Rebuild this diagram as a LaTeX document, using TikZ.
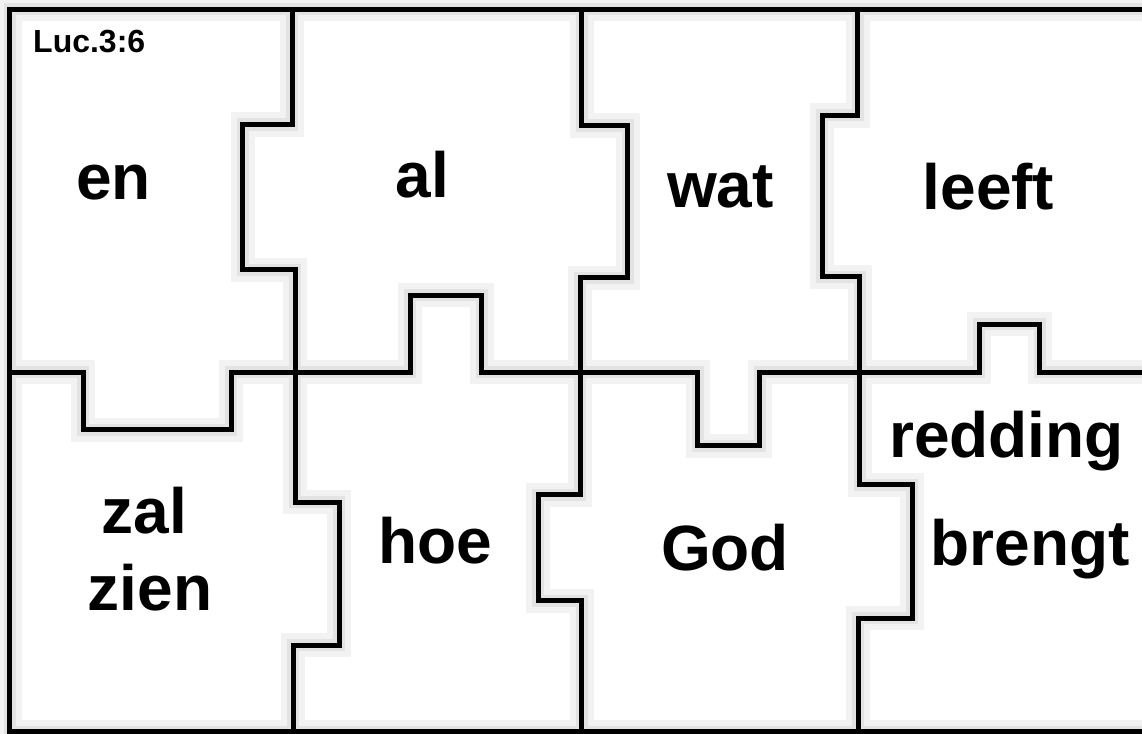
\documentclass[tikz,border=0pt]{standalone}
\usepackage{fontspec}
\setmainfont{Liberation Sans}
\begin{document}
\begin{tikzpicture}[x=1pt,y=-1pt,
  halo/.style={draw=black!5,line width=24pt},
  halotwo/.style={draw=black!11,line width=12pt},
  edge/.style={draw=black,line width=5pt},
  word/.style={anchor=base,inner sep=0pt,font=\fontsize{64}{64}\selectfont\bfseries},
  small/.style={anchor=base west,inner sep=0pt,font=\fontsize{32}{32}\selectfont\bfseries}]
\useasboundingbox (0,0) rectangle (1142,733);
\clip (0,0) rectangle (1142,733);
\fill[white] (0,0) rectangle (1142,733);
\foreach \s in {halo,halotwo,edge}{
  % outer frame
  \path[\s] (9.5,9.5) rectangle (1160,731.5);
  % column divider 1
  \path[\s] (292,9.5) -- (292,124.5) -- (242.5,124.5) -- (242.5,269.5) -- (295,269.5)
     -- (295,502) -- (339,502) -- (339,645) -- (293,645) -- (293,731.5);
  % column divider 2
  \path[\s] (581.5,9.5) -- (581.5,125.5) -- (627.5,125.5) -- (627.5,277.5) -- (580,277.5)
     -- (580,494.5) -- (538,494.5) -- (538,600.5) -- (581.5,600.5) -- (581.5,731.5);
  % column divider 3
  \path[\s] (857.5,9.5) -- (857.5,115.5) -- (822,115.5) -- (822,276.5) -- (859.5,276.5)
     -- (859.5,484.5) -- (912,484.5) -- (912,618) -- (858,618) -- (858,731.5);
  % row divider
  \path[\s] (9.5,372) -- (83,372) -- (83,429.5) -- (231,429.5) -- (231,372)
     -- (410,372) -- (410,295) -- (481.5,295) -- (481.5,372)
     -- (697.5,372) -- (697.5,445.5) -- (759.5,445.5) -- (759.5,372)
     -- (979,372) -- (979,324) -- (1039.5,324) -- (1039.5,372) -- (1160,372);
}
\node[small] (ref) at (33,52.7) {Luc.3:6};
\node[word] (en) at (113.5,199) {en};
\node[word] (al) at (422.5,197) {al};
\node[word] (wat) at (720.5,207) {wat};
\node[word] (leeft) at (988.5,209) {leeft};
\node[word] (zal) at (144.5,533) {zal};
\node[word] (zien) at (150,610.7) {zien};
\node[word] (hoe) at (435,563) {hoe};
\node[word] (God) at (725,570) {God};
\node[word] (redding) at (1006.5,457) {redding};
\node[word] (brengt) at (1030,565) {brengt};
\end{tikzpicture}
\end{document}
